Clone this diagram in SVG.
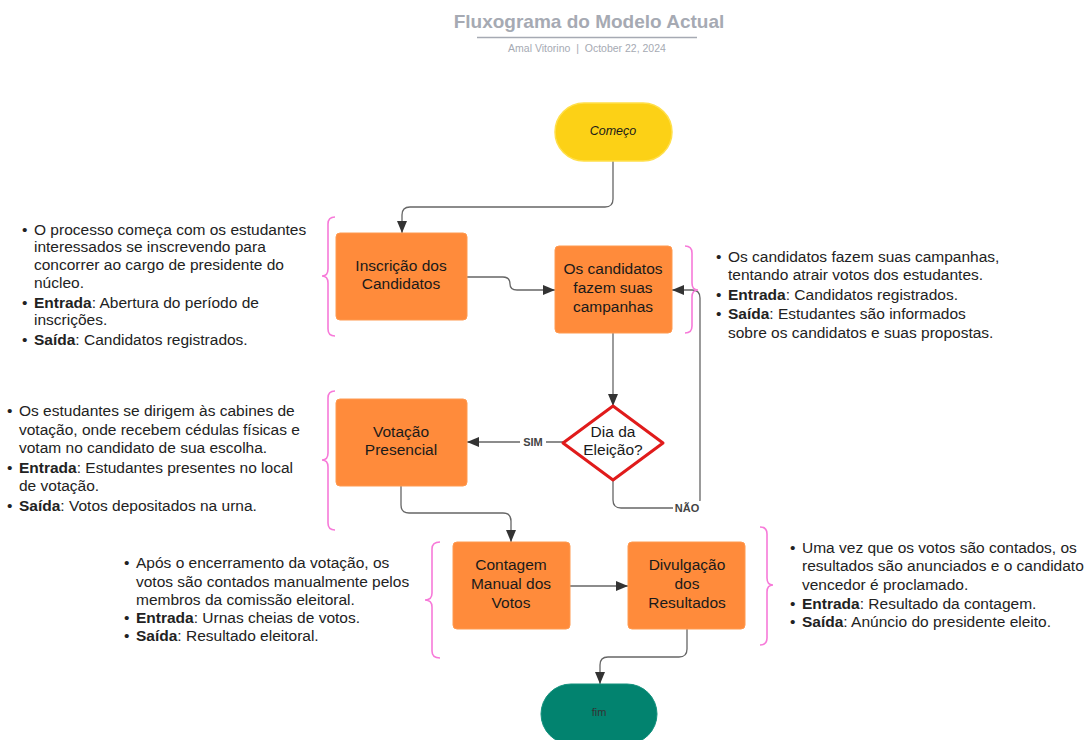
<svg xmlns="http://www.w3.org/2000/svg" width="1086" height="740" viewBox="0 0 1086 740">
<defs>
<style>
.box{fill:#ff8b3b;stroke:#ff9a50;stroke-width:1}
.bt{font-family:"Liberation Sans",Arial,sans-serif;font-size:15.5px;fill:#1a1a1a;text-anchor:middle}
.note{font-family:"Liberation Sans",Arial,sans-serif;font-size:15.5px;fill:#222}
.brace{fill:none;stroke:#f77ad9;stroke-width:1.6}
.conn{fill:none;stroke:#666;stroke-width:1.3}
.lbl{font-family:"Liberation Sans",Arial,sans-serif;font-size:11px;font-weight:bold;fill:#444}
</style>
<marker id="arr" markerUnits="userSpaceOnUse" markerWidth="12" markerHeight="12" viewBox="0 0 12 12" refX="12" refY="6" orient="auto">
<path d="M0,1 L12,6 L0,11 Z" fill="#333"/>
</marker>
</defs>
<rect width="1086" height="740" fill="#fff"/>
<g id="title">
<text x="589" y="28" text-anchor="middle" font-family="Liberation Sans, Arial, sans-serif" font-size="19" font-weight="bold" fill="#a6aab3">Fluxograma do Modelo Actual</text>
<line x1="477" y1="37.5" x2="697" y2="37.5" stroke="#a6aab3" stroke-width="1.5"/>
<text x="587" y="52" text-anchor="middle" font-family="Liberation Sans, Arial, sans-serif" font-size="10.5" fill="#a6aab3">Amal Vitorino&#160;&#160;|&#160;&#160;October 22, 2024</text>
</g>
<g id="connectors">
<path class="conn" d="M613,161 V199 Q613,207 605,207 H410 Q402,207 402,215 V233" marker-end="url(#arr)"/>
<path class="conn" d="M467,277 H503 Q510,277 510,284 Q510,290 517,290 H555" marker-end="url(#arr)"/>
<path class="conn" d="M613,333 V406" marker-end="url(#arr)"/>
<path class="conn" d="M563,442 H467" marker-end="url(#arr)"/>
<path class="conn" d="M613,480 V500 Q613,508 621,508 H692 Q700,508 700,500 V298 Q700,290 692,290 H672" marker-end="url(#arr)"/>
<path class="conn" d="M401,486 V505 Q401,513 409,513 H503 Q511,513 511,521 V542" marker-end="url(#arr)"/>
<path class="conn" d="M570,586 H628" marker-end="url(#arr)"/>
<path class="conn" d="M687,629 V649 Q687,657 679,657 H608 Q600,657 600,665 V684" marker-end="url(#arr)"/>
<rect x="520" y="435" width="26" height="13" fill="#fff"/>
<text class="lbl" x="533" y="446" text-anchor="middle">SIM</text>
<rect x="673" y="501" width="28" height="13" fill="#fff"/>
<text class="lbl" x="687" y="512" text-anchor="middle">NÃO</text>
</g>
<g id="comeco">
<rect x="555" y="103" width="117" height="58" rx="29" fill="#fcd116" stroke="#ffdf4a" stroke-width="1.5"/>
<text x="613" y="135" text-anchor="middle" font-family="Liberation Sans, Arial, sans-serif" font-size="12.5" font-style="italic" fill="#1a1a1a">Começo</text>
</g>
<g id="inscricao">
<rect class="box" x="336" y="233" width="131" height="87" rx="4"/>
<text class="bt" x="401" y="271">Inscrição dos</text>
<text class="bt" x="401" y="289">Candidatos</text>
</g>
<g id="campanhas">
<rect class="box" x="555" y="246" width="117" height="87" rx="4"/>
<text class="bt" x="613" y="274">Os candidatos</text>
<text class="bt" x="613" y="293">fazem suas</text>
<text class="bt" x="613" y="312">campanhas</text>
</g>
<g id="decisao">
<polygon points="613,406 663,443 613,480 563,443" fill="#fff" stroke="#e01b1b" stroke-width="3" stroke-linejoin="round"/>
<text class="bt" x="613" y="437">Dia da</text>
<text class="bt" x="613" y="455">Eleição?</text>
</g>
<g id="votacao">
<rect class="box" x="336" y="399" width="131" height="87" rx="4"/>
<text class="bt" x="401" y="437">Votação</text>
<text class="bt" x="401" y="455">Presencial</text>
</g>
<g id="contagem">
<rect class="box" x="453" y="542" width="117" height="87" rx="4"/>
<text class="bt" x="511" y="570">Contagem</text>
<text class="bt" x="511" y="589">Manual dos</text>
<text class="bt" x="511" y="608">Votos</text>
</g>
<g id="divulgacao">
<rect class="box" x="628" y="542" width="117" height="87" rx="4"/>
<text class="bt" x="687" y="570">Divulgação</text>
<text class="bt" x="687" y="589">dos</text>
<text class="bt" x="687" y="608">Resultados</text>
</g>
<g id="fim">
<rect x="541" y="684" width="116" height="60" rx="30" fill="#02836f" stroke="#12917d" stroke-width="1"/>
<text x="599" y="716" text-anchor="middle" font-family="Liberation Sans, Arial, sans-serif" font-size="11" fill="#333">fim</text>
</g>
<g id="braces">
<path class="brace" d="M335,217 Q328,217 328,224 V269 Q328,276 322,276 Q328,276 328,283 V329 Q328,336 335,336"/>
<path class="brace" d="M685,246 Q692,246 692,253 V283 Q692,290 698,290 Q692,290 692,297 V326 Q692,333 685,333"/>
<path class="brace" d="M335,391 Q328,391 328,398 V453 Q328,460 322,460 Q328,460 328,467 V523 Q328,530 335,530"/>
<path class="brace" d="M440,542 Q432,542 432,549 V593 Q432,600 425,600 Q432,600 432,607 V651 Q432,658 440,658"/>
<path class="brace" d="M760,527 Q767,527 767,534 V578 Q767,585 773,585 Q767,585 767,592 V638 Q767,645 760,645"/>
</g>
<g id="note1">
<text class="note" x="22" y="235">•</text>
<text class="note" x="34" y="235">O processo começa com os estudantes</text>
<text class="note" x="34" y="252">interessados se inscrevendo para</text>
<text class="note" x="34" y="270">concorrer ao cargo de presidente do</text>
<text class="note" x="34" y="288">núcleo.</text>
<text class="note" x="22" y="308">•</text>
<text class="note" x="34" y="308"><tspan font-weight="bold">Entrada</tspan>: Abertura do período de</text>
<text class="note" x="34" y="325">inscrições.</text>
<text class="note" x="22" y="345">•</text>
<text class="note" x="34" y="345"><tspan font-weight="bold">Saída</tspan>: Candidatos registrados.</text>
</g>
<g id="note2">
<text class="note" x="716" y="262">•</text>
<text class="note" x="728" y="262">Os candidatos fazem suas campanhas,</text>
<text class="note" x="728" y="280">tentando atrair votos dos estudantes.</text>
<text class="note" x="716" y="300">•</text>
<text class="note" x="728" y="300"><tspan font-weight="bold">Entrada</tspan>: Candidatos registrados.</text>
<text class="note" x="716" y="319">•</text>
<text class="note" x="728" y="319"><tspan font-weight="bold">Saída</tspan>: Estudantes são informados</text>
<text class="note" x="728" y="338">sobre os candidatos e suas propostas.</text>
</g>
<g id="note3">
<text class="note" x="7" y="416">•</text>
<text class="note" x="19" y="416">Os estudantes se dirigem às cabines de</text>
<text class="note" x="19" y="435">votação, onde recebem cédulas físicas e</text>
<text class="note" x="19" y="453">votam no candidato de sua escolha.</text>
<text class="note" x="7" y="473">•</text>
<text class="note" x="19" y="473"><tspan font-weight="bold">Entrada</tspan>: Estudantes presentes no local</text>
<text class="note" x="19" y="491">de votação.</text>
<text class="note" x="7" y="511">•</text>
<text class="note" x="19" y="511"><tspan font-weight="bold">Saída</tspan>: Votos depositados na urna.</text>
</g>
<g id="note4">
<text class="note" x="124" y="568">•</text>
<text class="note" x="136" y="568">Após o encerramento da votação, os</text>
<text class="note" x="136" y="587">votos são contados manualmente pelos</text>
<text class="note" x="136" y="605">membros da comissão eleitoral.</text>
<text class="note" x="124" y="623">•</text>
<text class="note" x="136" y="623"><tspan font-weight="bold">Entrada</tspan>: Urnas cheias de votos.</text>
<text class="note" x="124" y="641">•</text>
<text class="note" x="136" y="641"><tspan font-weight="bold">Saída</tspan>: Resultado eleitoral.</text>
</g>
<g id="note5">
<text class="note" x="790" y="553">•</text>
<text class="note" x="802" y="553">Uma vez que os votos são contados, os</text>
<text class="note" x="802" y="571">resultados são anunciados e o candidato</text>
<text class="note" x="802" y="590">vencedor é proclamado.</text>
<text class="note" x="790" y="609">•</text>
<text class="note" x="802" y="609"><tspan font-weight="bold">Entrada</tspan>: Resultado da contagem.</text>
<text class="note" x="790" y="627">•</text>
<text class="note" x="802" y="627"><tspan font-weight="bold">Saída</tspan>: Anúncio do presidente eleito.</text>
</g>
</svg>
